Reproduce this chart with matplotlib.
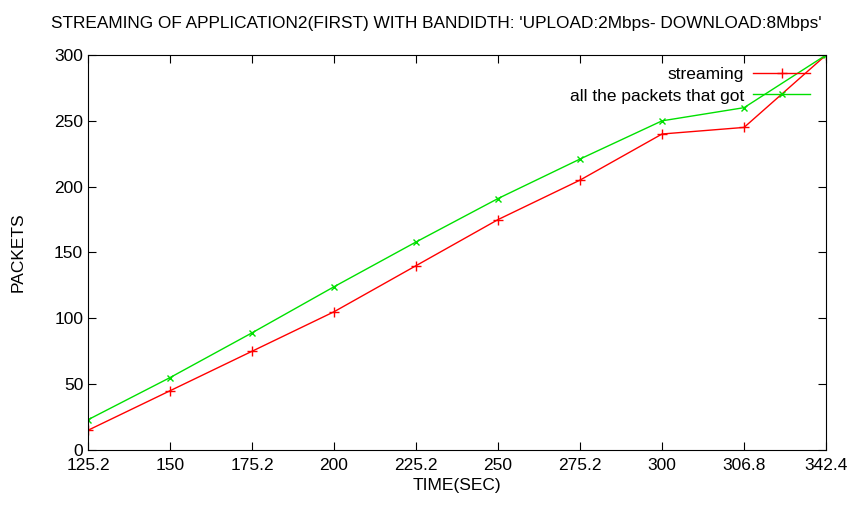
import matplotlib.pyplot as plt
import numpy as np

plt.rcParams['font.family'] = ['Liberation Sans', 'DejaVu Sans']

# x is treated as evenly spaced categories, like in the original
times = ["125.2", "150", "175.2", "200", "225.2", "250", "275.2", "300", "306.8", "342.4"]
streaming = [15, 45, 75, 105, 140, 175, 205, 240, 245, 300]
all_packets = [23, 55, 89, 124, 158, 191, 221, 250, 260, 300]

x = np.arange(len(times))

fig = plt.figure(figsize=(8.49, 5.13), dpi=100)
ax = fig.add_axes([0.1037, 0.1228, 0.8693, 0.77])

ax.plot(x, streaming, color="#ff0000", marker="+", markersize=7, lw=1, label="streaming")
ax.plot(x, all_packets, color="#00e000", marker="x", markersize=4, lw=1, label="all the packets that got")

ax.set_xlim(0, len(times) - 1)
ax.set_ylim(0, 300)
ax.set_xticks(x)
ax.set_xticklabels(times)
ax.set_yticks(np.arange(0, 301, 50))
ax.tick_params(direction="in", top=True, right=True, length=6, labelsize=12.5)
ax.tick_params(axis="x", pad=6)

ax.set_xlabel("TIME(SEC)", fontsize=12.5, labelpad=3)
ax.set_ylabel("PACKETS", fontsize=12.5, labelpad=8)
ax.yaxis.set_label_coords(-0.085, 0.5)
fig.text(0.514, 0.945,
         "STREAMING OF APPLICATION2(FIRST) WITH BANDIDTH: 'UPLOAD:2Mbps- DOWNLOAD:8Mbps'",
         fontsize=12.4, ha="center", va="baseline")

ax.legend(loc="upper right", frameon=False, markerfirst=False, fontsize=12.5,
          handlelength=3.3, handletextpad=0.5, borderaxespad=0.3, labelspacing=0.35,
          bbox_to_anchor=(0.995, 1.0))

fig.savefig("out.png", dpi=100)
